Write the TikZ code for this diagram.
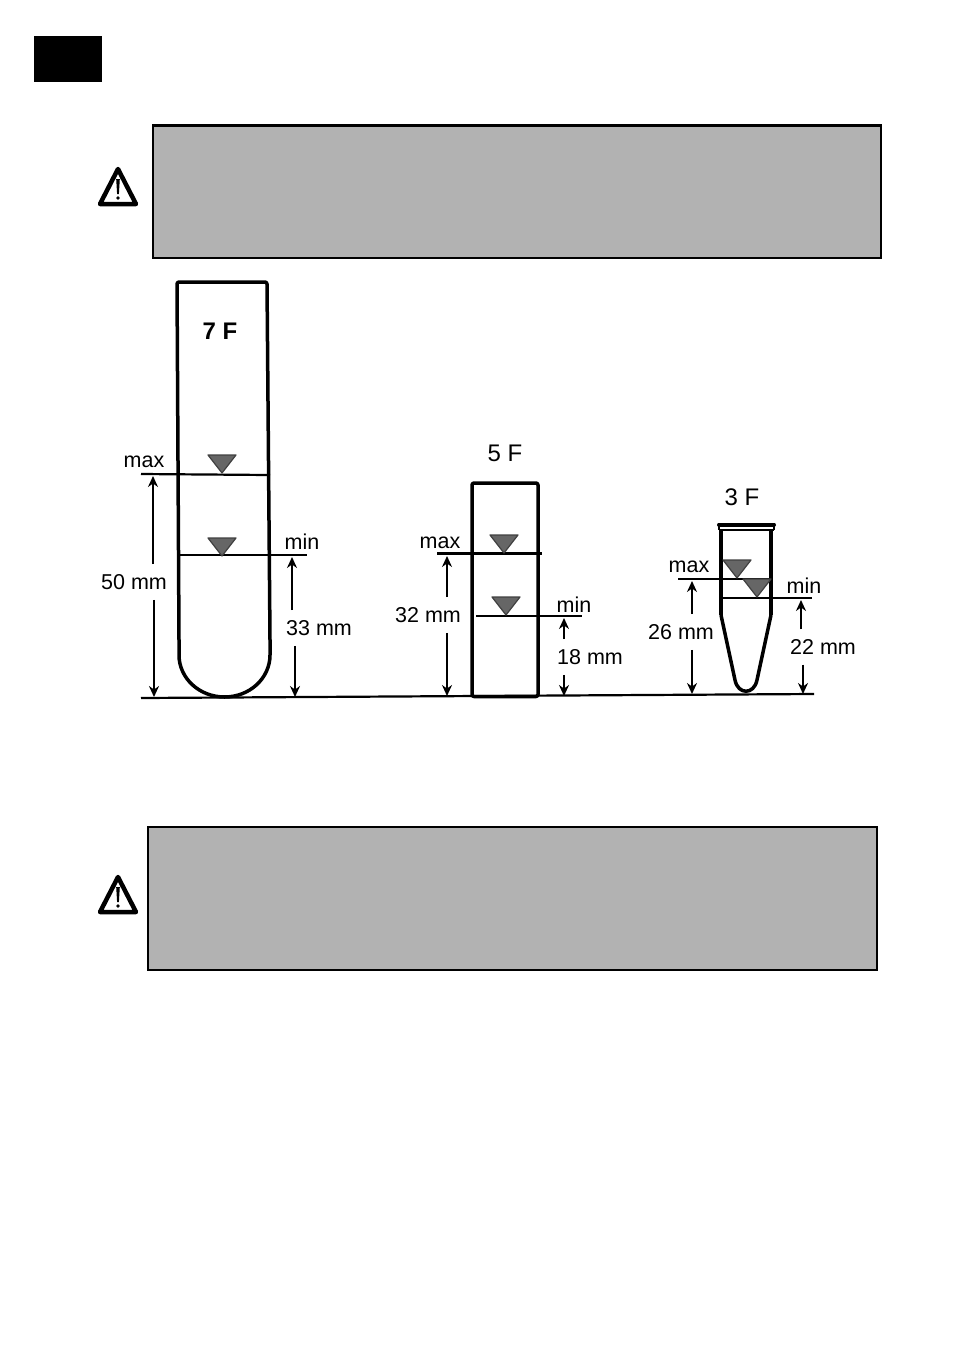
\documentclass[tikz,border=0pt]{standalone}
\usepackage{fontspec}
\setmainfont{Liberation Sans}
\usetikzlibrary{arrows.meta, calc}

\begin{document}
\begin{tikzpicture}[
		x=1pt, y=-1pt,
		every node/.style={font=\fontsize{21.5}{25}\selectfont, inner sep=0pt},
		notebox/.style={draw=black, line width=1.5pt, fill=black!30, outer sep=0pt},
		tube/.style={line width=3.5pt, line join=round, rounded corners=2pt},
		level/.style={line width=2.2pt},
		dim/.style={-{Stealth[length=11pt,width=10pt]}, line width=2.4pt},
		dimlabel/.style={inner ysep=10pt},
		title/.style={font=\fontsize{24}{28}\selectfont},
		marker/.pic={\draw[fill=black!60, draw=black!75, line width=1.2pt, line join=round] (0,0) -- (-14,-18) -- (14,-18) -- cycle;},
		warnsign/.pic={
			\draw[line width=4.5pt, line join=round, fill=white] (0,-18) -- (-18,17) -- (18,17) -- cycle;
			\fill[black] (-1.8,-8) -- (1.8,-8) -- (0.9,7) -- (-0.9,7) -- cycle;
			\fill[black] (0,11) circle (1.9pt);
		}
		]
		\useasboundingbox (0,0) rectangle (954,1350);
		
		% page tab
		\fill[black] (34,36) rectangle (102,82);
		
		% note boxes
		\node[notebox, minimum width=728pt, minimum height=133pt, anchor=north west] (notetop) at (153,125) {};
		\draw[line width=3pt] (notetop.north west) -- (notetop.north east);
		\node[notebox, minimum width=729pt, minimum height=143pt, anchor=north west] (notebottom) at (148,827) {};
		\pic at (118,187) {warnsign};
		\pic at (118,895) {warnsign};
		
		% tubes
		\draw[tube] (179,640) -- (177,282) -- (267,282) -- (270,640);
		\draw[line width=3.5pt] (179,640) -- (179,655) arc[start angle=180, end angle=360, x radius=45.5pt, y radius=42pt] -- (270,640);
		\draw[tube] (472,483) rectangle (538,696.5);
		\draw[tube] (721,530) -- (721,615);
		\draw[tube] (771,530) -- (771,615);
		\draw[line width=3.5pt, line join=round] (721,615) -- (735,680) .. controls (738,695) and (754,695) .. (757,680) -- (771,615);
		\draw[line width=4pt, line cap=round] (719,524.5) -- (774,524.5);
		\draw[line width=1.5pt] (719,530) -- (774,530);
		\draw[line width=2pt] (719,524.5) -- (719,530) (774,524.5) -- (774,530);
		
		% base line
		\coordinate (baseleft) at (141,698);
		\coordinate (baseright) at (814,694);
		\draw[level] (baseleft) -- (baseright);
		
		% titles
		\node[title, font=\fontsize{24}{28}\selectfont\bfseries] (titleseven) at (220,331) {7 F};
		\node[title] (titlefive) at (505,453) {5 F};
		\node[title] (titlethree) at (742,497) {3 F};
		
		% 7 F
		\draw[level] (141,474) -- (270,475);
		\draw[level] (180,555) -- (307,555);
		\pic at (222,473) {marker};
		\pic at (222,556) {marker};
		\node (maxseven) at (144,462) {max};
		\node (minseven) at (302,542) {min};
		\coordinate (topsevenmax) at (153,476);
		\coordinate (footsevenmax) at (154,697);
		\coordinate (topsevenmin) at (292,557);
		\coordinate (footsevenmin) at (295,697);
		\node[dimlabel] (labelsevenmax) at (134,582) {50 mm};
		\node[dimlabel] (labelsevenmin) at (319,628) {33 mm};
		\draw[dim] (labelsevenmax.north -| topsevenmax) -- (topsevenmax);
		\draw[dim] (labelsevenmax.south -| footsevenmax) -- (footsevenmax);
		\draw[dim] (labelsevenmin.north -| topsevenmin) -- (topsevenmin);
		\draw[dim] (labelsevenmin.south -| footsevenmin) -- (footsevenmin);
		
		% 5 F
		\draw[level] (437,553.5) -- (542,553.5);
		\draw[level] (476,616) -- (582,616);
		\pic at (504,553) {marker};
		\pic at (506,615) {marker};
		\node (maxfive) at (440,543) {max};
		\node (minfive) at (574,605) {min};
		\coordinate (topfivemax) at (447,556);
		\coordinate (footfivemax) at (447,696);
		\coordinate (topfivemin) at (564,618);
		\coordinate (footfivemin) at (564,696);
		\node[dimlabel] (labelfivemax) at (428,615) {32 mm};
		\node[dimlabel] (labelfivemin) at (590,657) {18 mm};
		\draw[dim] (labelfivemax.north -| topfivemax) -- (topfivemax);
		\draw[dim] (labelfivemax.south -| footfivemax) -- (footfivemax);
		\draw[dim] (labelfivemin.north -| topfivemin) -- (topfivemin);
		\draw[dim] (labelfivemin.south -| footfivemin) -- (footfivemin);
		
		% 3 F
		\draw[level] (678,579) -- (770,579);
		\draw[level] (722,598) -- (812,598);
		\pic at (737,578) {marker};
		\pic at (757,597) {marker};
		\node (maxthree) at (689,567) {max};
		\node (minthree) at (804,586) {min};
		\coordinate (topthreemax) at (692,581);
		\coordinate (footthreemax) at (692,694);
		\coordinate (topthreemin) at (801,600);
		\coordinate (footthreemin) at (803,694);
		\node[dimlabel] (labelthreemax) at (681,632) {26 mm};
		\node[dimlabel] (labelthreemin) at (823,647) {22 mm};
		\draw[dim] (labelthreemax.north -| topthreemax) -- (topthreemax);
		\draw[dim] (labelthreemax.south -| footthreemax) -- (footthreemax);
		\draw[dim] (labelthreemin.north -| topthreemin) -- (topthreemin);
		\draw[dim] (labelthreemin.south -| footthreemin) -- (footthreemin);
		
	\end{tikzpicture}
\end{document}
